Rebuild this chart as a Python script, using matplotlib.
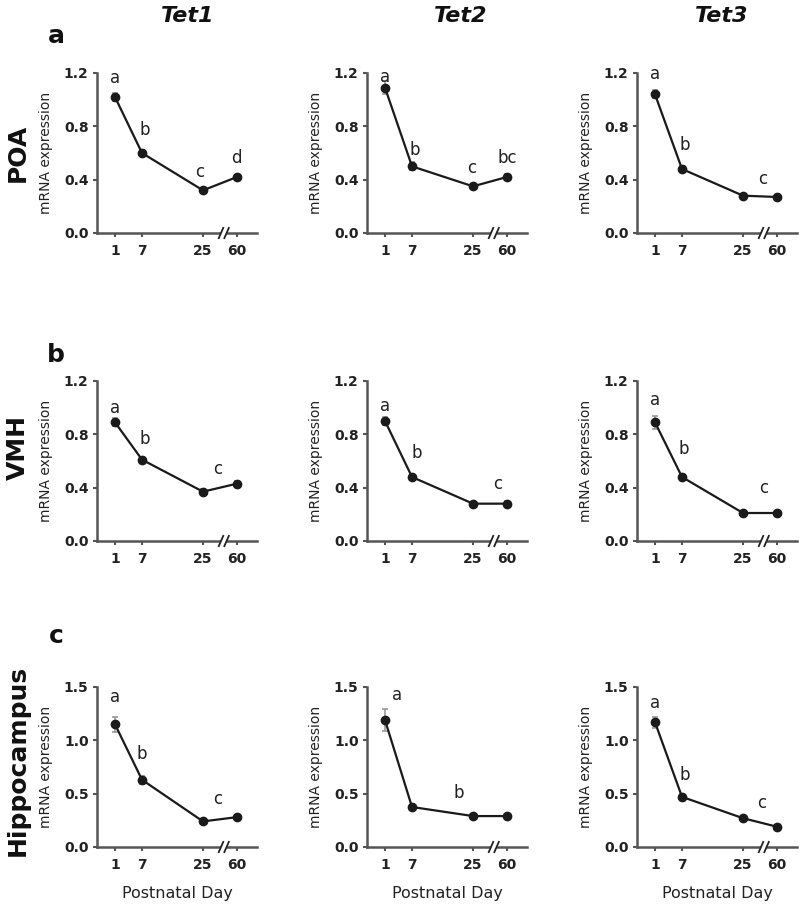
import numpy as np
import matplotlib
matplotlib.use("Agg")
import matplotlib.pyplot as plt

plt.rcParams['font.family'] = ['DejaVu Sans']

# ---------------- data ----------------
days = [1, 7, 25, 60]
genes = ["Tet1", "Tet2", "Tet3"]
regions = ["POA", "VMH", "Hippocampus"]
panel_letters = ["a", "b", "c"]

poa_tet1 = [1.02, 0.60, 0.32, 0.42]
poa_tet2 = [1.09, 0.50, 0.35, 0.42]
poa_tet3 = [1.04, 0.48, 0.28, 0.27]
vmh_tet1 = [0.89, 0.61, 0.37, 0.43]
vmh_tet2 = [0.90, 0.48, 0.28, 0.28]
vmh_tet3 = [0.89, 0.48, 0.21, 0.21]
hip_tet1 = [1.15, 0.63, 0.24, 0.28]
hip_tet2 = [1.19, 0.375, 0.29, 0.29]
hip_tet3 = [1.17, 0.47, 0.27, 0.19]

poa_tet1_se = [0.03, 0.02, 0.01, 0.01]
poa_tet2_se = [0.05, 0.03, 0.01, 0.02]
poa_tet3_se = [0.03, 0.02, 0.01, 0.01]
vmh_tet1_se = [0.03, 0.02, 0.02, 0.02]
vmh_tet2_se = [0.03, 0.01, 0.01, 0.02]
vmh_tet3_se = [0.05, 0.01, 0.01, 0.01]
hip_tet1_se = [0.07, 0.04, 0.01, 0.01]
hip_tet2_se = [0.10, 0.02, 0.01, 0.01]
hip_tet3_se = [0.05, 0.03, 0.01, 0.01]

values = [[poa_tet1, poa_tet2, poa_tet3],
          [vmh_tet1, vmh_tet2, vmh_tet3],
          [hip_tet1, hip_tet2, hip_tet3]]
errors = [[poa_tet1_se, poa_tet2_se, poa_tet3_se],
          [vmh_tet1_se, vmh_tet2_se, vmh_tet3_se],
          [hip_tet1_se, hip_tet2_se, hip_tet3_se]]

yticks_rows = [[0.0, 0.4, 0.8, 1.2], [0.0, 0.4, 0.8, 1.2], [0.0, 0.5, 1.0, 1.5]]
ytick_labels_rows = [["0.0", "0.4", "0.8", "1.2"], ["0.0", "0.4", "0.8", "1.2"],
                     ["0.0", "0.5", "1.0", "1.5"]]

# significance letters: (text, day position, y baseline)
sig_letters = [
    [[("a", 1, 1.125), ("b", 7.9, 0.735), ("c", 24, 0.42), ("d", 59, 0.525)],
     [("a", 1, 1.13), ("b", 7.9, 0.585), ("c", 24.7, 0.45), ("bc", 60, 0.525)],
     [("a", 1, 1.155), ("b", 7.8, 0.62), ("c", 45, 0.365)]],
    [[("a", 1, 0.96), ("b", 7.9, 0.73), ("c", 40.4, 0.505)],
     [("a", 1, 0.975), ("b", 8.5, 0.625), ("c", 50, 0.39)],
     [("a", 1, 1.02), ("b", 7.5, 0.65), ("c", 46.6, 0.36)]],
    [[("a", 1, 1.36), ("b", 7, 0.825), ("c", 40, 0.40)],
     [("a", 3.7, 1.38), ("b", 20.9, 0.46)],
     [("a", 1, 1.30), ("b", 7.7, 0.63), ("c", 44.6, 0.365)]],
]

# ---------------- broken-ish x scale ----------------
day_knots = [-4, 1, 7, 25, 60, 100]
px_knots = [-18, 0, 27, 88, 122, 142]

def fwd(d):
    return np.interp(d, day_knots, px_knots)

def inv(p):
    return np.interp(p, px_knots, day_knots)

W, H = 800, 909
fig = plt.figure(figsize=(W / 100, H / 100), dpi=100)

col_left = [97, 367, 637]
row_top = [73, 381, 687]
ax_w, ax_h = 160, 160

spine_col = "#555555"
line_col = "#1a1a1a"

for r in range(3):
    for c in range(3):
        left = col_left[c] / W
        bottom = 1 - (row_top[r] + ax_h) / H
        ax = fig.add_axes([left, bottom, ax_w / W, ax_h / H])
        ax.set_xscale('function', functions=(fwd, inv))
        ax.set_xlim(-4, 100)
        ymax = yticks_rows[r][-1]
        ax.set_ylim(0, ymax)

        ax.errorbar(days, values[r][c], yerr=errors[r][c], fmt='none',
                    ecolor='#9a9a9a', elinewidth=1.2, capsize=2.5, capthick=1.2,
                    zorder=2)
        ax.plot(days, values[r][c], color=line_col, lw=1.6, marker='o',
                markersize=6, markerfacecolor=line_col, markeredgecolor=line_col,
                zorder=3, clip_on=False)

        for spine in ['top', 'right']:
            ax.spines[spine].set_visible(False)
        for spine in ['left', 'bottom']:
            ax.spines[spine].set_color(spine_col)
            ax.spines[spine].set_linewidth(1.8)

        ax.set_xticks(days)
        ax.set_xticklabels([str(d) for d in days], fontsize=10, fontweight='bold',
                           color='#222222')
        ax.xaxis.set_minor_locator(matplotlib.ticker.NullLocator())
        ax.set_yticks(yticks_rows[r])
        ax.set_yticklabels(ytick_labels_rows[r], fontsize=10, fontweight='bold',
                           color='#222222')
        ax.tick_params(axis='both', colors=spine_col, length=3, width=1.5,
                       labelcolor='#222222', pad=3)
        ax.tick_params(axis='x', pad=5)

        ax.set_ylabel("mRNA expression", fontsize=10, color='#222222')
        ax.yaxis.set_label_coords(-0.275, 0.5)

        if r == 2:
            ax.set_xlabel("Postnatal Day", fontsize=11.5, color='#222222')
            ax.xaxis.label.set_va('center')
            ax.xaxis.set_label_coords(0.5, -0.29)

        # axis break marks
        ax.plot([0.772, 0.812], [0, 0], transform=ax.transAxes, color='white',
                lw=3, clip_on=False, zorder=5, solid_capstyle='butt')
        for bx in (0.775, 0.81):
            ax.plot([bx - 0.014, bx + 0.014], [-0.032, 0.032],
                    transform=ax.transAxes, color='#222222', lw=1.3,
                    clip_on=False, zorder=6)

        for txt, dx, dy in sig_letters[r][c]:
            ax.text(dx, dy, txt, fontsize=12, ha='center', va='baseline',
                    color='#222222')

# column titles
title_x = [188, 461, 722]
for c in range(3):
    fig.text(title_x[c] / W, 1 - 22 / H, genes[c], fontsize=16,
             fontweight='bold', fontstyle='italic', ha='center', va='baseline',
             color='#111111')

# panel letters
letter_base = [43, 362, 643]
for r in range(3):
    fig.text(56 / W, 1 - letter_base[r] / H, panel_letters[r], fontsize=18,
             fontweight='bold', ha='center', va='baseline', color='#111111')

# row labels
row_y = [153, 447, 760]
for r in range(3):
    fig.text(18 / W, 1 - row_y[r] / H, regions[r], fontsize=18, rotation=90,
             fontweight='bold', ha='center', va='center', color='#111111')

fig.savefig("out.png", dpi=100)
